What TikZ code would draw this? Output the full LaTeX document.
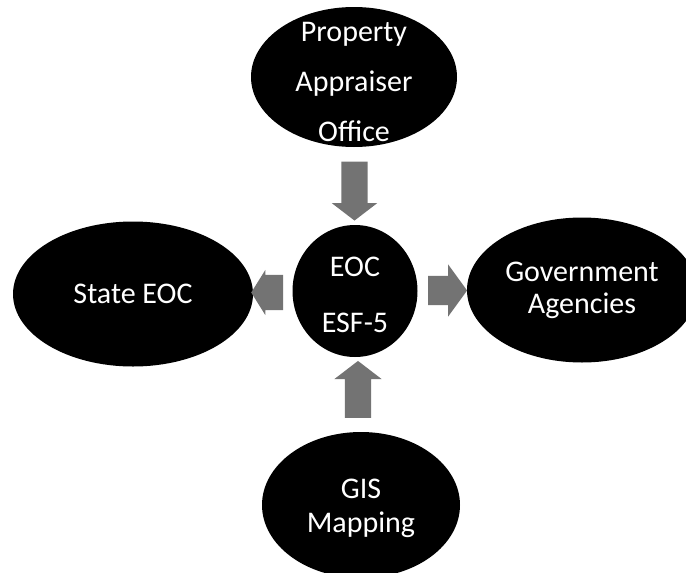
\documentclass[tikz,border=0pt]{standalone}
\usepackage{fontspec}
\setmainfont{Carlito}
\usetikzlibrary{shapes,arrows,positioning,calc}
\tikzstyle{bubble} = [ellipse, fill=black, draw=none, inner sep=0pt, outer sep=0pt]
\tikzstyle{words} = [text=white, align=center, inner sep=0pt, font=\fontsize{30}{34}\selectfont]
\tikzstyle{fat} = [single arrow, fill=black!55, draw=none, inner sep=0pt, outer sep=0pt, minimum width=46pt, single arrow head extend=10pt, single arrow tip angle=105, single arrow head indent=0pt]

\begin{document}
\begin{tikzpicture}[x=1pt,y=-1pt]
    \useasboundingbox (0,0) rectangle (686,573);
    % the five bubbles
    \node[bubble, minimum width=206pt, minimum height=140pt] (office) at (354,77) {};
    \node[bubble, minimum width=125pt, minimum height=132pt] (eoc) at (355,291) {};
    \node[bubble, minimum width=240pt, minimum height=145pt] (state) at (133,294) {};
    \node[bubble, minimum width=230pt, minimum height=145pt] (gov) at (582,290) {};
    \node[bubble, minimum width=198pt, minimum height=146pt] (gis) at (361,505) {};

    \node[words, font=\fontsize{30}{50}\selectfont, yshift=-5pt] (officetxt) at (office) {Property\\Appraiser\\Office};
    \node[words, font=\fontsize{30}{56}\selectfont, yshift=-4pt] (eoctxt) at (eoc) {EOC\\ESF-5};
    \node[words] (statetxt) at (state) {State EOC};
    \node[words, font=\fontsize{30}{32}\selectfont] (govtxt) at (gov) {Government\\Agencies};
    \node[words, yshift=-3pt] (gistxt) at (gis) {GIS\\Mapping};

    % block arrows
    \node[fat, shape border rotate=270, inner xsep=13pt, minimum height=59pt, minimum width=45pt, single arrow head extend=9.5pt] (down) at ($(office.south)!0.5!(eoc.north)$) {};
    \node[fat, shape border rotate=90, inner xsep=13pt, minimum height=57pt, minimum width=47pt, single arrow head extend=10.5pt] (up) at ($(gis.north)!0.5!(eoc.south)$) {};
    \node[fat, shape border rotate=180, inner ysep=17.5pt, minimum height=32pt, minimum width=45pt, single arrow head extend=5pt, single arrow tip angle=116] (left) at ($(eoc.west)!0.5!(state.east)$) {};
    \node[fat, inner ysep=14.5pt, minimum height=39pt, minimum width=52pt, single arrow head extend=11.5pt, single arrow tip angle=108] (right) at ($(eoc.east)!0.5!(gov.west)$) {};
\end{tikzpicture}
\end{document}
